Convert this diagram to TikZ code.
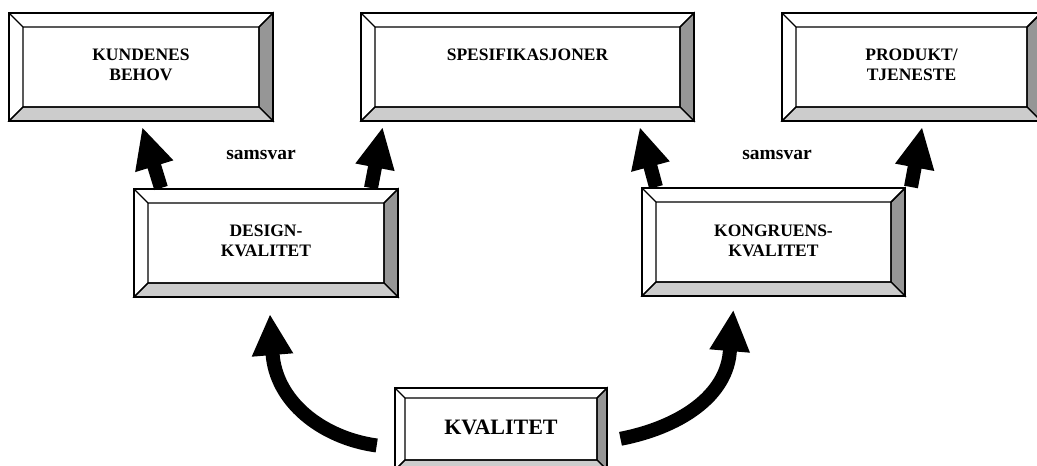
\documentclass[tikz,border=0pt]{standalone}
\usepackage{fontspec}
\setmainfont{Liberation Serif}
\usetikzlibrary{calc}
\definecolor{bevdark}{RGB}{150,150,150}
\definecolor{bevlight}{RGB}{204,204,204}

% Bevelled "button" frame drawn around an (invisible) rectangular node
\newcommand\bevelframe[2]{%
  \path (#1.north west) coordinate (bfA) (#1.north east) coordinate (bfB)
        (#1.south east) coordinate (bfC) (#1.south west) coordinate (bfD);
  \path ($(bfA)+(#2,#2)$) coordinate (bfa) ($(bfB)+(-#2,#2)$) coordinate (bfb)
        ($(bfC)+(-#2,-#2)$) coordinate (bfc) ($(bfD)+(#2,-#2)$) coordinate (bfd);
  \fill[white] (bfA) rectangle (bfC);
  \filldraw[bevel line, fill=bevdark] (bfB) -- (bfC) -- (bfc) -- (bfb) -- cycle;
  \filldraw[bevel line, fill=bevlight] (bfD) -- (bfC) -- (bfc) -- (bfd) -- cycle;
  \draw[bevel line] (bfA) -- (bfa) (bfB) -- (bfb) (bfD) -- (bfd) (bfa) rectangle (bfc);
  \draw[frame line] (bfA) rectangle (bfC);
}

% Straight block arrow from #1 (shaft foot) to #2 (tip)
\newcommand\blockarrow[2]{%
  \path ($(#2)!40pt!(#1)$) coordinate (baH);
  \fill[black] ($(#1)!7pt!90:(#2)$) -- ($(baH)!7pt!-90:(#1)$) -- ($(baH)!20pt!-90:(#1)$)
    -- (#2) -- ($(baH)!20pt!90:(#1)$) -- ($(baH)!7pt!90:(#1)$) -- ($(#1)!7pt!-90:(#2)$) -- cycle;
}

\begin{document}
\begin{tikzpicture}[x=1pt, y=-1pt,
  boxnode/.style={rectangle, inner sep=0pt, outer sep=0pt},
  bevel line/.style={draw=black, line width=1.4pt, line join=miter},
  frame line/.style={draw=black, line width=1.8pt},
  lbl/.style={inner sep=0pt, align=center, font=\fontsize{17.5}{20}\selectfont\bfseries},
  biglbl/.style={inner sep=0pt, font=\fontsize{22}{26}\selectfont\bfseries},
  sam/.style={inner sep=0pt, font=\fontsize{19.5}{22}\selectfont\bfseries},
  shaft/.style={draw=black, line width=14pt, line cap=butt}]

  \clip (0,0) rectangle (1037,466);
  \fill[white] (0,0) rectangle (1037,466);

  % boxes
  \node[boxnode, minimum width=264pt, minimum height=108pt] (kunde)  at (141,67) {};
  \node[boxnode, minimum width=333pt, minimum height=108pt] (spec)   at (527.5,67) {};
  \node[boxnode, minimum width=259pt, minimum height=108pt] (prod)   at (911.5,67) {};
  \node[boxnode, minimum width=264pt, minimum height=108pt] (design) at (266,243) {};
  \node[boxnode, minimum width=263pt, minimum height=108pt] (kongr)  at (773.5,242) {};
  \node[boxnode, minimum width=212pt, minimum height=82pt]  (kval)   at (501,429) {};

  \bevelframe{kunde}{14}
  \bevelframe{spec}{14}
  \bevelframe{prod}{14}
  \bevelframe{design}{14}
  \bevelframe{kongr}{14}
  \bevelframe{kval}{10}

  % labels
  \node[lbl, anchor=north] (kundeT)  at ($(kunde.north)+(0,35.5)$)  {KUNDENES\\BEHOV};
  \node[lbl, anchor=north] (specT)   at ($(spec.north)+(0,35.5)$)   {SPESIFIKASJONER};
  \node[lbl, anchor=north] (prodT)   at ($(prod.north)+(0,36)$)     {PRODUKT/\\TJENESTE};
  \node[lbl, anchor=north] (designT) at ($(design.north)+(0,35.5)$) {DESIGN-\\KVALITET};
  \node[lbl, anchor=north] (kongrT)  at ($(kongr.north)+(0,36.5)$)  {KONGRUENS-\\KVALITET};
  \node[biglbl, anchor=base] (kvalT) at ($(kval.center)+(0,5)$)     {KVALITET};

  \node[sam, anchor=base] (samL) at (261,159) {samsvar};
  \node[sam, anchor=base] (samR) at (777,159) {samsvar};

  % short block arrows
  \coordinate (a1s) at ($(design.north west)+(27,-1)$);
  \coordinate (a1t) at ($(kunde.south west)+(133.5,7)$);
  \coordinate (a2s) at ($(design.north east)+(-27,-1)$);
  \coordinate (a2t) at ($(spec.south west)+(21.5,7)$);
  \coordinate (a3s) at ($(kongr.north west)+(14,-1)$);
  \coordinate (a3t) at ($(spec.south east)+(-54,7)$);
  \coordinate (a4s) at ($(kongr.north east)+(6,-1)$);
  \coordinate (a4t) at ($(prod.south west)+(140,7)$);
  \blockarrow{a1s}{a1t}
  \blockarrow{a2s}{a2t}
  \blockarrow{a3s}{a3t}
  \blockarrow{a4s}{a4t}

  % curved arrows out of KVALITET
  \coordinate (cLs) at ($(kval.west)+(-18.3,16.5)$);
  \coordinate (cLt) at ($(design.south)+(4,18)$);
  \coordinate (cLh) at ($(cLt)+(2.5,38)$);
  \draw[shaft] (cLs) .. controls +(-55.5,-7.7) and +(3,48) .. (cLh);
  \fill[black] (cLt) -- ($(cLt)+(-18.3,41.7)$) -- ($(cLt)+(23.3,38.3)$) -- cycle;

  \coordinate (cRs) at ($(kval.east)+(13.5,9.8)$);
  \coordinate (cRt) at ($(kongr.south)+(-40.2,14.7)$);
  \coordinate (cRh) at ($(cRt)+(-3.3,38.3)$);
  \draw[shaft] (cRs) .. controls +(57,-11) and +(-2,48) .. (cRh);
  \fill[black] (cRt) -- ($(cRt)+(-24,38.6)$) -- ($(cRt)+(16.7,42)$) -- cycle;
\end{tikzpicture}
\end{document}
